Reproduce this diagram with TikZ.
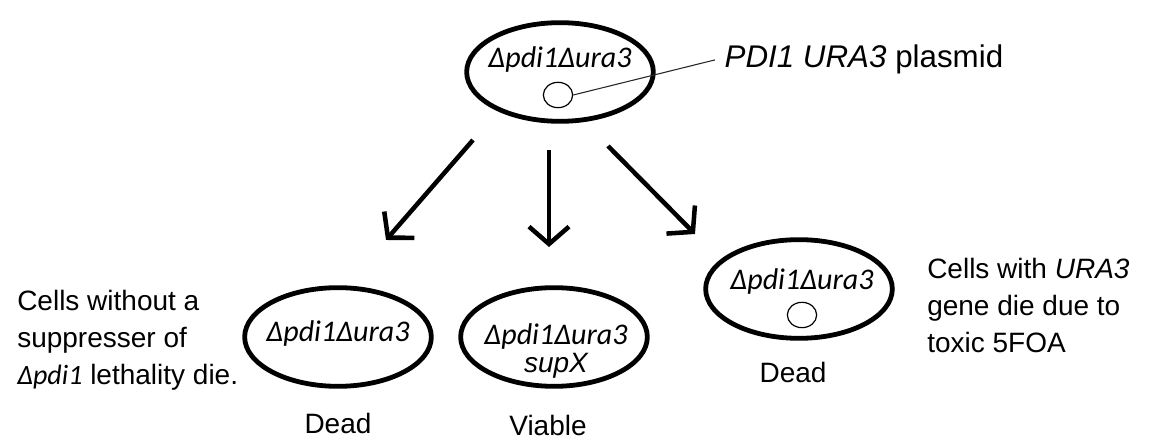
\documentclass[tikz,border=0pt]{standalone}
\usepackage{fontspec}
\setmainfont{Liberation Sans}
\newfontfamily\calfont{Carlito}
\usetikzlibrary{shapes.geometric,arrows.meta}

\newcommand{\gene}[1]{{\calfont\itshape #1}}

\tikzset{%
  cell/.style={draw, ellipse, line width=3.6pt, minimum width=140pt, minimum height=74pt, inner sep=0pt},
  plasmid/.style={draw, ellipse, line width=0.9pt, minimum width=22pt, minimum height=19pt, inner sep=0pt},
  genotype/.style={anchor=base, inner sep=0pt, font=\fontsize{22.5}{26}\selectfont\calfont\itshape},
  texto/.style={inner sep=0pt, font=\fontsize{21}{27.75}\selectfont},
  line/.style={draw, line width=3.4pt, -{Straight Barb[length=13pt, width=30pt]}},
  leader/.style={draw, line width=0.8pt, color=black!85},
}

\begin{document}
\begin{tikzpicture}[x=0.75pt, y=-0.75pt]
\useasboundingbox (0,0) rectangle (1165,441);

% parent strain with plasmid
\node [cell] (top) at (560,72) {};
\node [genotype] (toplbl) at (560,68) {Δpdi1Δura3};
\node [plasmid] (p0) at (558,95) {};
\node [texto, anchor=base west, inner sep=7pt, font=\fontsize{23.5}{28}\selectfont] (plas) at (715,68) {\textit{PDI1 URA3} plasmid};
\draw [leader] (p0.east) -- (plas.west);

% arrows
\coordinate (a1) at (473,140);
\coordinate (b1) at (386,240);
\coordinate (a2) at (549,150);
\coordinate (b2) at (549,247);
\coordinate (a3) at (608,146);
\coordinate (b3) at (695,234);
\draw [line] (a1) -- (b1);
\draw [line] (a2) -- (b2);
\draw [line] (a3) -- (b3);

% offspring
\node [cell] (dead1) at (338,337) {};
\node [genotype] (dead1lbl) at (338,342) {Δpdi1Δura3};
\node [cell] (viab) at (554,337) {};
\node [genotype] (viablbl) at (556,345) {Δpdi1Δura3};
\node [texto, anchor=base, font=\fontsize{21}{26}\selectfont\itshape] (suplbl) at (556,373) {supX};
\node [cell] (dead2) at (799,289) {};
\node [genotype] (dead2lbl) at (802,290) {Δpdi1Δura3};
\node [plasmid] (p2) at (802,315) {};

\node [texto, anchor=base] (st1) at (338,434) {Dead};
\node [texto, anchor=base] (st2) at (548,436) {Viable};
\node [texto, anchor=base] (st3) at (793,383) {Dead};

% notes (base = last line)
\node [texto, anchor=base west, align=left] (note1) at (17,385) {Cells without a\\suppresser of\\\gene{Δpdi1} lethality die.};
\node [texto, anchor=base west, align=left] (note2) at (927,353) {Cells with \textit{URA3}\\gene die due to\\toxic 5FOA};
\end{tikzpicture}
\end{document}
